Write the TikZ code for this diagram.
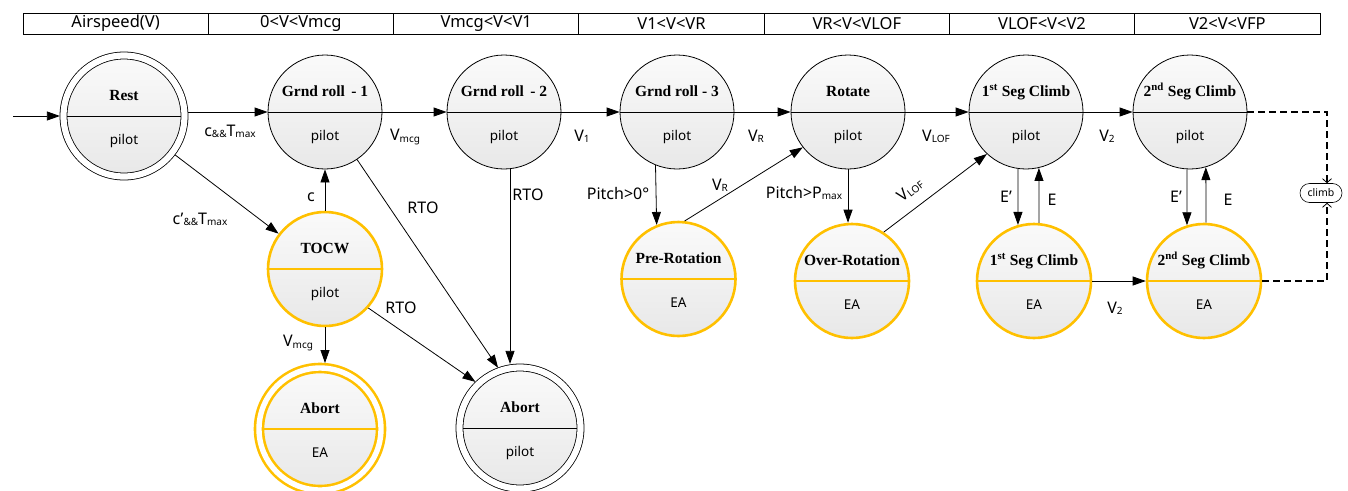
\documentclass[tikz,border=0pt]{standalone}
\usepackage{fontspec}
\setmainfont{Noto Sans}
\newfontfamily\ttlfont{Liberation Serif}
\usetikzlibrary{arrows.meta,shapes.misc}

\definecolor{ea}{HTML}{FFC000}
\definecolor{shTop}{HTML}{FAFAFA}
\definecolor{shBot}{HTML}{E8E8E8}

% small lowered text used for subscripts in the labels
\newcommand\lowsub[1]{\raisebox{-1.2pt}{\fontsize{10}{10}\selectfont #1}}

\tikzset{
  base/.style={circle, inner sep=0pt, minimum size=114pt,
    top color=shTop, bottom color=shBot},
  pilotst/.style={base, draw=black, line width=0.8pt,
    path picture={\draw[black, line width=0.8pt]
      (path picture bounding box.west) -- (path picture bounding box.east);}},
  eastate/.style={base, draw=ea, line width=2.6pt,
    path picture={\draw[ea, line width=2.6pt]
      (path picture bounding box.west) -- (path picture bounding box.east);}},
  dblpilot/.style={pilotst, minimum size=121pt, double=white,
    double distance=6.2pt, outer sep=3.6pt},
  dblea/.style={eastate, minimum size=122pt, double=white,
    double distance=5.4pt, outer sep=5pt},
  ttl/.style={font=\ttlfont\bfseries\fontsize{15.5}{16}\selectfont,
    inner sep=0pt, anchor=base},
  role/.style={font=\fontsize{13.5}{15}\selectfont, inner sep=0pt, anchor=base},
  lbl/.style={font=\fontsize{16}{18}\selectfont, inner sep=0pt},
  arr/.style={-{Triangle[length=13pt,width=9pt]}, line width=0.8pt},
  dasharr/.style={line width=1.9pt, dash pattern=on 7pt off 4pt,
    -{Straight Barb[length=4pt,width=9pt,line width=0.8pt]}},
  hcell/.style={draw, line width=0.8pt, minimum width=185.3pt,
    minimum height=21pt, inner sep=0pt, font=\fontsize{16.5}{18}\selectfont},
  climbbox/.style={rounded rectangle, draw, line width=0.6pt, fill=white,
    minimum width=44pt, minimum height=19pt, inner sep=1pt,
    font=\fontsize{10.5}{12}\selectfont},
}

% state macro: name, x, y, title, role, style
\newcommand\stnode[6]{%
  \node[#6] (#1) at (#2,#3) {};
  \node[ttl] (#1-t) at ([yshift=16pt]#1.center) {#4};
  \node[role] (#1-r) at ([yshift=-28pt]#1.center) {#5};}

\begin{document}
\begin{tikzpicture}[x=1pt, y=-1pt]
\useasboundingbox (0,0) rectangle (1348,490);

% speed ranges
\node[hcell] (h1) at (115.6,23.5) {Airspeed(V)};
\node[hcell] (h2) at (300.9,23.5) {0<V<Vmcg};
\node[hcell] (h3) at (486.2,23.5) {Vmcg<V<V1};
\node[hcell] (h4) at (671.5,23.5) {V1<V<VR};
\node[hcell] (h5) at (856.8,23.5) {VR<V<VLOF};
\node[hcell] (h6) at (1042.0,23.5) {VLOF<V<V2};
\node[hcell] (h7) at (1227.3,23.5) {V2<V<VFP};

% states
\stnode{rest}{124}{116}{Rest}{pilot}{dblpilot}
\stnode{g1}{325}{112}{Grnd roll\, - 1}{pilot}{pilotst}
\stnode{g2}{504}{112}{Grnd roll\, - 2}{pilot}{pilotst}
\stnode{g3}{677}{112}{Grnd roll - 3}{pilot}{pilotst}
\stnode{rot}{848}{112}{Rotate}{pilot}{pilotst}
\stnode{c1}{1026}{112}{1\textsuperscript{st} Seg Climb}{pilot}{pilotst}
\stnode{c2}{1190}{112}{2\textsuperscript{nd} Seg Climb}{pilot}{pilotst}
\stnode{tocw}{325}{269}{TOCW}{pilot}{eastate}
\stnode{abea}{320}{429}{Abort}{EA}{dblea}
\stnode{abp}{520}{428}{Abort}{pilot}{dblpilot}
\stnode{pre}{678.5}{279}{Pre-Rotation}{EA}{eastate}
\stnode{over}{852}{281}{Over-Rotation}{EA}{eastate}
\stnode{c1e}{1034}{281}{1\textsuperscript{st} Seg Climb}{EA}{eastate}
\stnode{c2e}{1204}{281}{2\textsuperscript{nd} Seg Climb}{EA}{eastate}
\node[climbbox] (climb) at (1321,193) {climb};

% transitions
\coordinate (entry) at (13,116);
\draw[arr] (entry) -- (rest.west);
\draw[arr] (rest.east |- g1.west) -- (g1.west);
\draw[arr] (g1.east) -- (g2.west);
\draw[arr] (g2.east) -- (g3.west);
\draw[arr] (g3.east) -- (rot.west);
\draw[arr] (rot.east) -- (c1.west);
\draw[arr] (c1.east) -- (c2.west);
\draw[arr] (rest) -- (tocw);
\draw[arr] (tocw.north) -- (g1.south);
\draw[arr] (g1.-56) -- (abp.110);
\draw[arr] ([xshift=6pt]g2.south) -- ([xshift=6pt]g2.south |- abp.north);
\draw[arr] (tocw.-42) -- (abp.134);
\draw[arr] (tocw.south) -- (tocw.south |- abea.north);
\draw[arr] (g3.-112) -- (pre.112);
\draw[arr] (pre.84) -- (rot.-142);
\draw[arr] (rot.south) -- (rot.south |- over.north);
\draw[arr] (over.57) -- (c1.-133);
\draw[arr] (c1.-98) -- (c1e.106);
\draw[arr] (c1e.85) -- (c1.-77);
\draw[arr] (c2.-93) -- (c2e.107);
\draw[arr] (c2e.88) -- (c2.-74);
\draw[arr] (c1e.east) -- (c2e.west);
\draw[dasharr] (c2.east) -| ([xshift=6pt]climb.north);
\draw[dasharr] (c2e.east) -| ([xshift=6pt]climb.south);

% transition labels
\node[lbl] (l1) at (230,131) {c\lowsub{\&\&}T\lowsub{max}};
\node[lbl] (l2) at (405,137) {V\lowsub{mcg}};
\node[lbl] (l3) at (200,219) {c’\lowsub{\&\&}T\lowsub{max}};
\node[lbl] (l4) at (311,197) {c};
\node[lbl] (l5) at (423,208) {RTO};
\node[lbl] (l6) at (528,195) {RTO};
\node[lbl] (l7) at (401,308) {RTO};
\node[lbl] (l8) at (298,343) {V\lowsub{mcg}};
\node[lbl] (l9) at (582,136) {V\lowsub{1}};
\node[lbl] (l10) at (756,136) {V\lowsub{R}};
\node[lbl] (l11) at (936,136) {V\lowsub{LOF}};
\node[lbl] (l12) at (618,193) {Pitch>0°};
\node[lbl] (l13) at (720,185) {V\lowsub{R}};
\node[lbl] (l14) at (804,193) {Pitch>P\lowsub{max}};
\node[lbl, rotate=38] (l15) at (910,190) {V\lowsub{LOF}};
\node[lbl] (l16) at (1107,136) {V\lowsub{2}};
\node[lbl] (l17) at (1006,197) {E’};
\node[lbl] (l18) at (1052,200) {E};
\node[lbl] (l19) at (1176,197) {E’};
\node[lbl] (l20) at (1228,200) {E};
\node[lbl] (l21) at (1115,308) {V\lowsub{2}};
\end{tikzpicture}
\end{document}
